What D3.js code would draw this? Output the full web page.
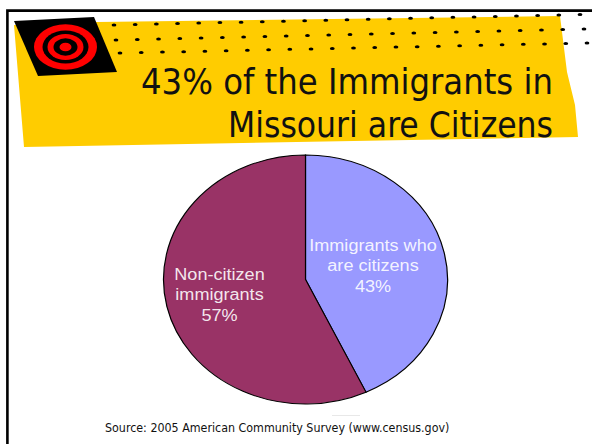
<!DOCTYPE html>
<html>
<head>
<meta charset="utf-8">
<script src="https://cdnjs.cloudflare.com/ajax/libs/d3/7.8.5/d3.min.js"></script>
<style>
html,body{margin:0;padding:0;background:#fff}
svg{display:block}
</style>
</head>
<body>
<svg id="slide" width="592" height="444"></svg>
<script>
// Pie data
const categories = ["Immigrants who are citizens", "Non-citizen immigrants"];
const shares = [43, 57];
const sliceColors = ["#9999ff", "#993366"];
const sliceLabels = [["Immigrants who", "are citizens", "43%"], ["Non-citizen", "immigrants", "57%"]];

// Slide text
const titleLines = ["43% of the Immigrants in", "Missouri are Citizens"];
const titleWidths = [412, 325];
const sourceNote = "Source: 2005 American Community Survey (www.census.gov)";

// Decorative banner dots, one start and end per row
const dotRows = [
  {from: [114, 25], to: [580, 14.5], count: 23},
  {from: [116, 40], to: [584, 29], count: 23},
  {from: [120, 53], to: [587, 43], count: 23}
];
const ringRadii = [31.5, 23, 18, 12, 6];
const ringColors = ["#ff0000", "#000000", "#ff0000", "#000000", "#ff0000"];

const svg = d3.select("#slide");
const condensed = "'DejaVu Sans Condensed', 'DejaVu Sans', sans-serif";

// Slide frame
svg.append("path")
  .attr("d", "M7.4,444V10.6H592")
  .attr("fill", "none").attr("stroke", "#000").attr("stroke-width", 2.6);

// Faint rule above the source note
svg.append("line")
  .attr("x1", 332).attr("x2", 360).attr("y1", 415.5).attr("y2", 415.5)
  .attr("stroke", "#e8e8e8").attr("stroke-width", 1);

// Banner
svg.append("polygon")
  .attr("points", "14,25 97,22 560,16 567,72 575,105 578,137 24,147")
  .attr("fill", "#ffcc00");

// Target badge
svg.append("polygon")
  .attr("points", "14,21 94,17 117,72 38,76")
  .attr("fill", "#000");
svg.append("g").selectAll("ellipse").data(ringRadii).join("ellipse")
  .attr("cx", 65.5).attr("cy", 47)
  .attr("rx", d => d).attr("ry", d => d * 0.72)
  .attr("fill", (d, i) => ringColors[i]);

// Dotted rows across the banner
dotRows.forEach(row => {
  const x = d3.scaleLinear().domain([0, row.count - 1]).range([row.from[0], row.to[0]]);
  const y = d3.scaleLinear().domain([0, row.count - 1]).range([row.from[1], row.to[1]]);
  svg.append("g").selectAll("ellipse").data(d3.range(row.count)).join("ellipse")
    .attr("cx", x).attr("cy", y).attr("rx", 2.4).attr("ry", 1.5).attr("fill", "#000");
});

// Title, each line fitted to its own width
svg.append("g").selectAll("text").data(titleLines).join("text")
  .attr("x", 553).attr("y", (d, i) => 94 + i * 42.5)
  .attr("text-anchor", "end")
  .attr("font-family", condensed)
  .attr("font-stretch", "condensed")
  .attr("font-size", 36.1)
  .attr("textLength", (d, i) => titleWidths[i])
  .attr("lengthAdjust", "spacingAndGlyphs")
  .attr("fill", "#111")
  .text(d => d);

// Pie, squashed vertically into an ellipse
const cx = 305.5, cy = 279.5, rx = 142, ry = 124.5;
const pie = d3.pie().sort(null)(shares);
const arc = d3.arc().innerRadius(0).outerRadius(rx);
const pieGroup = svg.append("g")
  .attr("transform", `translate(${cx},${cy}) scale(1,${ry / rx})`);
pieGroup.selectAll("path").data(pie).join("path")
  .attr("d", arc)
  .attr("fill", (d, i) => sliceColors[i])
  .attr("stroke", "#000").attr("stroke-width", 1.2);

// Slice labels, drawn slightly wide
const labelAnchors = [[373, 251], [219.5, 280]];
sliceLabels.forEach((lines, i) => {
  svg.append("g").selectAll("text").data(lines).join("text")
    .attr("transform", (d, j) =>
      `translate(${labelAnchors[i][0]},${labelAnchors[i][1] + j * 20.3}) scale(1.13,1)`)
    .attr("text-anchor", "middle")
    .attr("font-family", "'Liberation Sans', Arial, sans-serif")
    .attr("font-size", 16)
    .attr("fill", "#fff")
    .attr("fill-opacity", 0.9)
    .text(d => d);
});

// Source note
svg.append("text")
  .attr("x", 105).attr("y", 431.5)
  .attr("font-family", condensed)
  .attr("font-stretch", "condensed")
  .attr("font-size", 12.35)
  .attr("fill", "#111")
  .text(sourceNote);
</script>
</body>
</html>
